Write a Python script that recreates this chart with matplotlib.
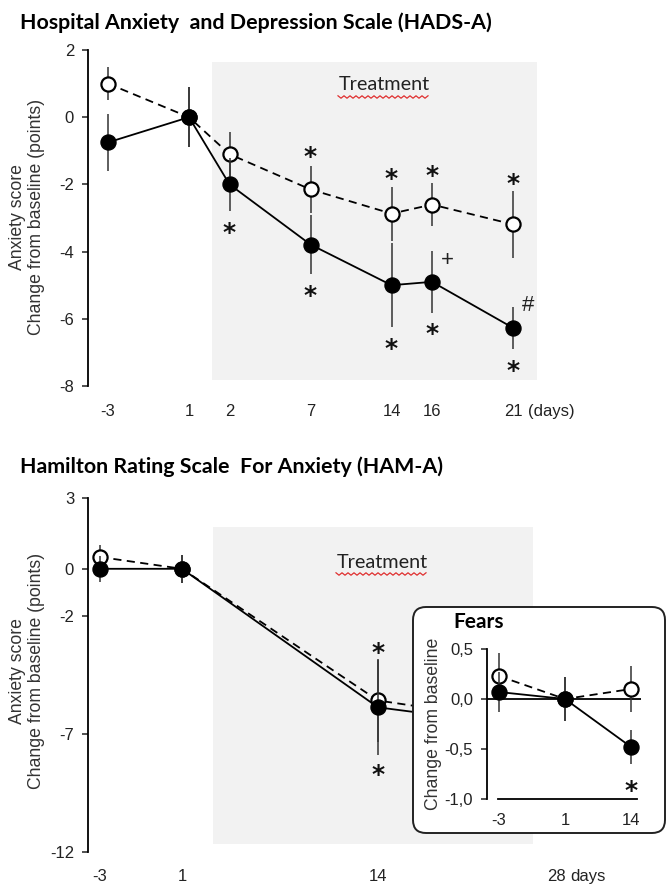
import numpy as np
import matplotlib
matplotlib.use("Agg")
import matplotlib.pyplot as plt
from matplotlib.patches import FancyBboxPatch, Rectangle

# HADS-A -------------------------------------------------------------------
hads_days = ["-3", "1", "2", "7", "14", "16", "21"]
hads_pos = [0, 1, 1.5, 2.5, 3.5, 4, 5]
hads_placebo = [1.0, 0.0, -1.1, -2.15, -2.87, -2.6, -3.19]
hads_placebo_err = [0.5, 0.9, 0.65, 0.7, 0.8, 0.63, 1.0]
hads_active = [-0.75, 0.0, -2.0, -3.79, -5.0, -4.9, -6.27]
hads_active_err = [0.85, 0.9, 0.78, 0.88, 1.25, 0.93, 0.62]
# asterisks (x position, y)
hads_stars = [(1.5, -3.2), (2.5, -0.92), (2.5, -5.07), (3.5, -1.6), (3.5, -6.65),
              (4, -1.49), (4, -6.2), (5, -1.73), (5, -7.3)]

# HAM-A --------------------------------------------------------------------
hama_days = ["-3", "1", "14", "28"]
hama_pos = [0, 1, 3.39, 5.57]
hama_placebo = [0.5, 0.0, -5.58, -6.7]
hama_placebo_err = [0.5, 0.6, 1.74, 1.5]
hama_active = [0.0, 0.0, -5.87, -6.85]
hama_active_err = [0.55, 0.6, 2.0, 1.5]
hama_stars = [(3.39, -3.2), (3.39, -8.37)]

# Fears (inset) --------------------------------------------------------------
fears_days = ["-3", "1", "14"]
fears_pos = [0, 1, 2]
fears_placebo = [0.23, 0.0, 0.1]
fears_placebo_err = [0.23, 0.22, 0.23]
fears_active = [0.07, 0.0, -0.48]
fears_active_err = [0.2, 0.22, 0.17]
fears_stars = [(2, -0.83)]

W, H = 666, 884
TXT = "#222222"
plt.rcParams['font.family'] = ['Liberation Sans', 'DejaVu Sans']
plt.rcParams['font.size'] = 12
plt.rcParams['text.color'] = TXT


def box(l, t, r, b):
    # pixel box -> figure fraction
    return [l / W, 1 - b / H, (r - l) / W, (b - t) / H]


def style_axes(ax, ticks, labels, days, pos, pad_x):
    for s in ['top', 'right', 'bottom']:
        ax.spines[s].set_visible(False)
    ax.spines['left'].set_linewidth(1.3)
    ax.set_yticks(ticks)
    ax.set_yticklabels(labels)
    ax.set_xticks(pos)
    ax.set_xticklabels(days)
    ax.tick_params(axis='y', length=4, width=1.1, pad=6, labelsize=12, colors=TXT)
    ax.tick_params(axis='x', length=0, pad=pad_x, labelsize=12, colors=TXT)
    ax.patch.set_visible(False)


def draw_series(ax, pos, placebo, placebo_err, active, active_err, ms=10.8):
    ax.errorbar(pos, placebo, yerr=placebo_err, color='black', ecolor='#333333',
                elinewidth=1.1, capsize=0, lw=1.3, ls=(0, (4.5, 3)), marker='o',
                ms=ms - 0.6, mfc='white', mec='black', mew=1.6, zorder=3, clip_on=False)
    ax.errorbar(pos, active, yerr=active_err, color='black', ecolor='#333333',
                elinewidth=1.1, capsize=0, lw=1.3, ls='-', marker='o',
                ms=ms, mfc='black', mec='black', zorder=4, clip_on=False)


def stars(ax, pts, fs=18):
    for x, y in pts:
        ax.annotate("*", (x, y), xytext=(0, -0.62 * fs), textcoords='offset points',
                    ha='center', va='baseline', fontsize=fs, family='DejaVu Sans',
                    weight='bold', color='#111111', zorder=6)


def treatment(fig, cx, cy):
    fig.text(cx / W, 1 - cy / H, "Treatment", ha='center', va='center',
             fontsize=14.3, family='Lato', color=TXT)
    xs = np.arange(cx - 46, cx + 47, 3)
    ys = cy + 12 + np.where(np.arange(len(xs)) % 2 == 0, -1.2, 1.2)
    fig.add_artist(plt.Line2D(xs / W, 1 - ys / H, color='#e03030', lw=0.9,
                              transform=fig.transFigure))


fig = plt.figure(figsize=(W / 100, H / 100), dpi=100)

# top panel
ax1 = fig.add_axes(box(88, 50, 560, 386))
ax1.set_xlim(-0.247, 5.58)
ax1.set_ylim(-8, 2)
ax1.add_patch(Rectangle((1.28, -7.83), 4.02, 9.47, color='#f2f2f2', lw=0, zorder=0))
draw_series(ax1, hads_pos, hads_placebo, hads_placebo_err, hads_active, hads_active_err)
style_axes(ax1, [2, 0, -2, -4, -6, -8], ["2", "0", "-2", "-4", "-6", "-8"],
           hads_days, hads_pos, 13)
stars(ax1, hads_stars)
ax1.text(4.19, -4.27, "+", ha='center', va='center', fontsize=16, color=TXT)
ax1.text(5.19, -5.6, "#", ha='center', va='center', fontsize=16, color=TXT)
ax1.annotate("(days)", (5, 0), xycoords=('data', 'axes fraction'), xytext=(11, -13),
             textcoords='offset points', ha='left', va='top', fontsize=12, color=TXT)
treatment(fig, 384, 85)
fig.text(20 / W, 1 - 23 / H, "Hospital Anxiety  and Depression Scale (HADS-A)",
         ha='left', va='center', fontsize=15.4, family='Lato', weight='bold', color='black')
fig.text(27 / W, 1 - 217 / H, "Anxiety score\nChange from baseline (points)", rotation=90,
         ha='center', va='center', multialignment='center', fontsize=12.7,
         linespacing=1.1, color='#333333')

# bottom panel
ax2 = fig.add_axes(box(88, 498, 560, 852))
ax2.set_xlim(-0.146, 5.61)
ax2.set_ylim(-12, 3)
ax2.add_patch(Rectangle((1.38, -11.66), 3.9, 13.43, color='#f2f2f2', lw=0, zorder=0))
draw_series(ax2, hama_pos, hama_placebo, hama_placebo_err, hama_active, hama_active_err)
style_axes(ax2, [3, 0, -2, -7, -12], ["3", "0", "-2", "-7", "-12"],
           hama_days, hama_pos, 12)
stars(ax2, hama_stars)
ax2.annotate("days", (5.57, 0), xycoords=('data', 'axes fraction'), xytext=(10, -12),
             textcoords='offset points', ha='left', va='top', fontsize=12, color=TXT)
treatment(fig, 382, 562)
fig.text(20 / W, 1 - 467 / H, "Hamilton Rating Scale  For Anxiety (HAM-A)",
         ha='left', va='center', fontsize=15.4, family='Lato', weight='bold', color='black')
fig.text(27 / W, 1 - 671 / H, "Anxiety score\nChange from baseline (points)", rotation=90,
         ha='center', va='center', multialignment='center', fontsize=12.7,
         linespacing=1.1, color='#333333')

# inset box
frame = FancyBboxPatch((4.13, 0.51), 2.52, 2.26, boxstyle="round,pad=0,rounding_size=0.13",
                       transform=fig.dpi_scale_trans, fc='white', ec='#222222', lw=1.4,
                       zorder=2)
fig.add_artist(frame)

ax3 = fig.add_axes(box(487, 649, 641, 799), zorder=5)
ax3.set_xlim(-0.18, 2.15)
ax3.set_ylim(-1.0, 0.5)
ax3.axhline(0, color='black', lw=1.3, zorder=2)
draw_series(ax3, fears_pos, fears_placebo, fears_placebo_err, fears_active, fears_active_err)
style_axes(ax3, [0.5, 0, -0.5, -1.0], ["0,5", "0,0", "-0,5", "-1,0"],
           fears_days, fears_pos, 10)
ax3.spines['bottom'].set_visible(True)
ax3.spines['bottom'].set_linewidth(1.3)
ax3.spines['bottom'].set_bounds(-0.02, 2.09)
stars(ax3, fears_stars)
ax3.text(-0.695, 0.77, "Fears", ha='left', va='center', fontsize=15, family='Lato',
         weight='bold', color='black')
ax3.set_ylabel("Change from baseline", fontsize=12.7, color='#333333', labelpad=2)

fig.savefig("out.png", dpi=100)
